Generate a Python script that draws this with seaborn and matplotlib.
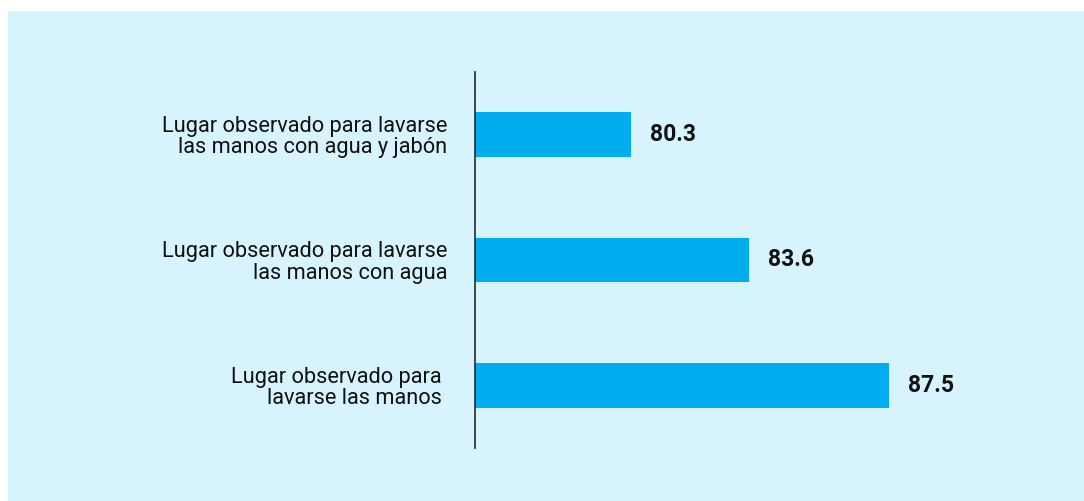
import matplotlib
matplotlib.use("Agg")
import matplotlib.pyplot as plt
import seaborn as sns
import pandas as pd
from matplotlib.patches import Rectangle

# Data
categories = [
    "Lugar observado para lavarse\nlas manos con agua y jabón",
    "Lugar observado para lavarse\nlas manos con agua",
    "Lugar observado para \nlavarse las manos ",
]
values = [80.3, 83.6, 87.5]

BG = "#d7f3fe"
BAR = "#00aeef"

sns.set_theme(style="white")
plt.rcParams["font.family"] = ["Roboto", "DejaVu Sans"]

df = pd.DataFrame({"category": categories, "value": values})

fig = plt.figure(figsize=(10.84, 5.01), dpi=100)
fig.patch.set_facecolor("white")
# light blue panel behind the chart
fig.patches.append(Rectangle((8 / 1084, 0), 1 - 8 / 1084, 1 - 11 / 501,
                             transform=fig.transFigure, facecolor=BG,
                             edgecolor="none", zorder=-10))

ax = fig.add_axes([475 / 1084, 1 - 448 / 501, 573 / 1084, 376 / 501])
ax.set_facecolor("none")

sns.barplot(data=df, x="value", y="category", color=BAR, width=0.355,
            saturation=1, linewidth=0, ax=ax)

ax.set_xlim(75.95, 91.95)
ax.set_ylim(2.5, -0.5)
ax.set_xlabel("")
ax.set_ylabel("")
ax.set_xticks([])

for s in ["top", "right", "bottom"]:
    ax.spines[s].set_visible(False)
ax.spines["left"].set_color("#1f2a30")
ax.spines["left"].set_linewidth(1.2)

ax.tick_params(axis="y", length=0, pad=20)
for lbl in ax.get_yticklabels():
    lbl.set_fontsize(15.7)
    lbl.set_color("#111111")
    lbl.set_linespacing(1.0)
    lbl.set_horizontalalignment("right")
    lbl.set_multialignment("right")

for i, v in enumerate(values):
    ax.annotate(f"{v:.1f}", (v, i), xytext=(19, 0), textcoords="offset pixels",
                ha="left", va="center", fontsize=16.5, fontweight="bold",
                color="#111111")

fig.savefig("out.png", dpi=100, facecolor="white")
